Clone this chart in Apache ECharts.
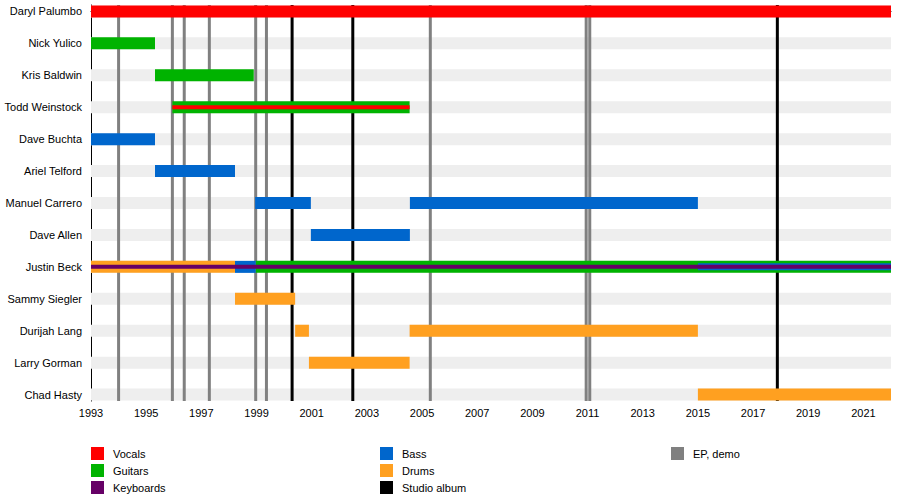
<!DOCTYPE html>
<html>
<head>
<meta charset="utf-8">
<script src="https://cdn.jsdelivr.net/npm/echarts@6/dist/echarts.min.js"></script>
<style>
  html, body { margin: 0; padding: 0; background: #fff; }
  #main { width: 900px; height: 500px; }
</style>
</head>
<body>
<div id="main"></div>
<script>
// band members, top to bottom
const members = [
  'Daryl Palumbo', 'Nick Yulico', 'Kris Baldwin', 'Todd Weinstock', 'Dave Buchta',
  'Ariel Telford', 'Manuel Carrero', 'Dave Allen', 'Justin Beck', 'Sammy Siegler',
  'Durijah Lang', 'Larry Gorman', 'Chad Hasty'
];

// [member index, from, to]
const vocals = [[0, 1993, 2022]];
const backingVocals = [[3, 1995.95, 2004.55]];
const guitars = [[1, 1993, 1995.32], [2, 1995.32, 1998.9], [3, 1995.95, 2004.55], [8, 1998.97, 2022]];
const bass = [[4, 1993, 1995.32], [5, 1995.32, 1998.22], [6, 1998.95, 2000.97], [6, 2004.56, 2015.0],
  [7, 2000.97, 2004.56], [8, 1998.22, 1998.97]];
const bassLater = [[8, 2015.0, 2022]];
const keyboards = [[8, 1993, 2022]];
const drums = [[8, 1993, 1998.22], [9, 1998.22, 2000.4], [10, 2000.4, 2000.9], [10, 2004.55, 2015.0],
  [11, 2000.9, 2004.55], [12, 2015.0, 2022]];

// release dates
const studioAlbums = [2000.29, 2002.49, 2017.88];
const epDemos = [1994.0, 1995.95, 1996.38, 1997.29, 1998.97, 1999.36, 2005.3, 2010.95, 2011.08];

const yearStart = 1993;
const yearEnd = 2022;

const chart = echarts.init(document.getElementById('main'), null, { renderer: 'svg' });

function clipTo(params, rect) {
  const cs = params.coordSys;
  return echarts.graphic.clipRectByRect(rect, { x: cs.x, y: cs.y, width: cs.width, height: cs.height });
}

// horizontal bar of fixed pixel height h
function barSeries(name, data, color, h, z) {
  return {
    type: 'custom',
    name: name,
    z: z,
    data: data,
    itemStyle: { color: color },
    encode: { x: [1, 2], y: 0 },
    silent: true,
    renderItem: function (params, api) {
      const p0 = api.coord([api.value(1), api.value(0)]);
      const p1 = api.coord([api.value(2), api.value(0)]);
      const rect = clipTo(params, { x: p0[0], y: p0[1] - h / 2, width: p1[0] - p0[0], height: h });
      return rect && { type: 'rect', shape: rect, style: { fill: color } };
    }
  };
}

// vertical release line across the whole plot
function lineSeries(name, years, color, z) {
  return {
    type: 'custom',
    name: name,
    z: z,
    data: years.map(function (y) { return [y, 0]; }),
    itemStyle: { color: color },
    encode: { x: 0, y: 1 },
    silent: true,
    renderItem: function (params, api) {
      const x = api.coord([api.value(0), 0])[0];
      const cs = params.coordSys;
      return { type: 'rect', shape: { x: x - 1.5, y: cs.y, width: 3, height: cs.height }, style: { fill: color } };
    }
  };
}

const stripes = members.map(function (m, i) { return [i, yearStart, yearEnd]; });

const legendBase = {
  orient: 'vertical',
  icon: 'rect',
  itemWidth: 13,
  itemHeight: 13,
  itemGap: 4,
  selectedMode: false,
  textStyle: { fontFamily: 'Liberation Sans, Arial, sans-serif', fontSize: 11, color: '#000', padding: [0, 0, 0, 4] }
};

const option = {
  animation: false,
  backgroundColor: '#fff',
  textStyle: { fontFamily: 'Liberation Sans, Arial, sans-serif' },
  grid: { left: 91, right: 9, top: 5, bottom: 99 },
  legend: [
    Object.assign({}, legendBase, { left: 86, top: 442, data: ['Vocals', 'Guitars', 'Keyboards'] }),
    Object.assign({}, legendBase, { left: 375, top: 442, data: ['Bass', 'Drums', 'Studio album'] }),
    Object.assign({}, legendBase, { left: 666, top: 442, data: ['EP, demo'] })
  ],
  xAxis: {
    type: 'value',
    min: yearStart,
    max: yearEnd,
    interval: 2,
    splitLine: { show: false },
    axisLine: { show: true, lineStyle: { color: '#000', width: 1 } },
    axisTick: { show: true, length: 4, lineStyle: { color: '#000' } },
    axisLabel: {
      color: '#000', fontSize: 11, margin: 6, showMaxLabel: false,
      formatter: function (v) { return String(v); }
    }
  },
  yAxis: {
    type: 'value',
    inverse: true,
    min: -0.2,
    max: 12.2,
    splitLine: { show: false },
    axisLine: { show: true, lineStyle: { color: '#000', width: 1 } },
    axisTick: { show: false },
    axisLabel: {
      color: '#000',
      fontSize: 11,
      margin: 9,
      customValues: members.map(function (m, i) { return i; }),
      formatter: function (v) { return members[Math.round(v)] || ''; }
    }
  },
  series: [
    barSeries('', stripes, '#eeeeee', 12, 1),
    lineSeries('EP, demo', epDemos, '#808080', 2),
    lineSeries('Studio album', studioAlbums, '#000000', 2),
    barSeries('Vocals', vocals, '#ff0000', 12, 3),
    barSeries('Guitars', guitars, '#00b300', 12, 3),
    barSeries('Bass', bass, '#0066cc', 12, 3),
    barSeries('Drums', drums, '#ffa020', 12, 3),
    barSeries('Bass', bassLater, '#0066cc', 7, 4),
    barSeries('Vocals', backingVocals, '#ff0000', 4, 5),
    barSeries('Keyboards', keyboards, '#660066', 4, 5)
  ]
};

chart.setOption(option);
</script>
</body>
</html>
